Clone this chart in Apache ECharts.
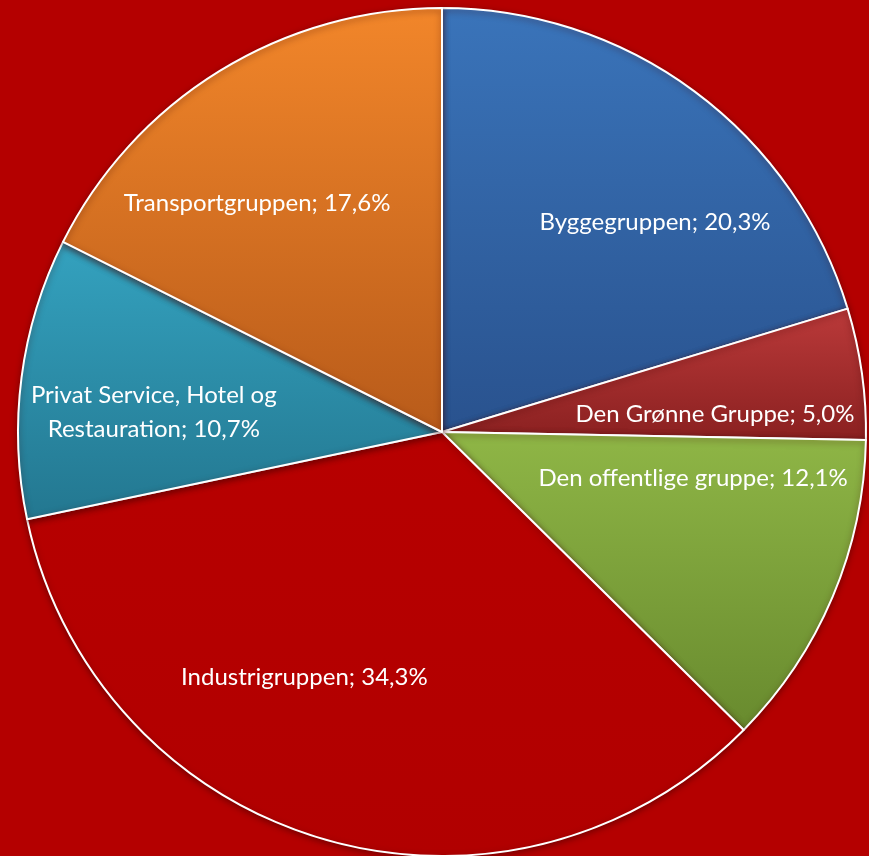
<!DOCTYPE html>
<html>
<head>
<meta charset="utf-8">
<script src="https://cdn.jsdelivr.net/npm/echarts@6/dist/echarts.min.js"></script>
<style>
  html, body { margin: 0; padding: 0; background: #b40000; }
  #chart { width: 869px; height: 856px; }
</style>
</head>
<body>
<div id="chart"></div>
<script>
const categories = [
  "Byggegruppen",
  "Den Grønne Gruppe",
  "Den offentlige gruppe",
  "Industrigruppen",
  "Privat Service, Hotel og\nRestauration",
  "Transportgruppen"
];
const shares = [20.3, 5.0, 12.1, 34.3, 10.7, 17.6];

// top / bottom gradient colours per slice
const topColors = ["#3a74ba", "#bb3a3a", "#8fb646", "#b70000", "#34a2bf", "#f2862a"];
const bottomColors = ["#29528e", "#8a2020", "#688a2e", "#b10000", "#237790", "#b85b1a"];
// nudge the labels to where the original places them
const labelNudge = [[85, -37], [60, 12], [53, -37], [-77, 39], [-75, 8], [-72, -46]];

const chart = echarts.init(document.getElementById("chart"));

chart.setOption({
  backgroundColor: "#b40000",
  animation: false,
  series: [
    {
      type: "pie",
      center: [442, 432],
      radius: [0, 424],
      startAngle: 90,
      clockwise: true,
      data: categories.map((name, i) => ({
        name: name,
        value: shares[i],
        itemStyle: {
          color: new echarts.graphic.LinearGradient(0, 0, 0, 1, [
            { offset: 0, color: topColors[i] },
            { offset: 1, color: bottomColors[i] }
          ])
        },
        label: { offset: labelNudge[i] }
      })),
      itemStyle: {
        borderColor: "#ffffff",
        borderWidth: 2,
        shadowColor: "rgba(60,0,0,0.5)",
        shadowBlur: 6,
        shadowOffsetY: 2
      },
      label: {
        show: true,
        position: "inside",
        color: "#ffffff",
        fontFamily: "Lato",
        fontSize: 24,
        lineHeight: 34,
        align: "center",
        formatter: (p) => p.name + "; " + p.value.toFixed(1).replace(".", ",") + "%"
      },
      labelLine: { show: false },
      emphasis: { disabled: true }
    }
  ]
});
</script>
</body>
</html>
